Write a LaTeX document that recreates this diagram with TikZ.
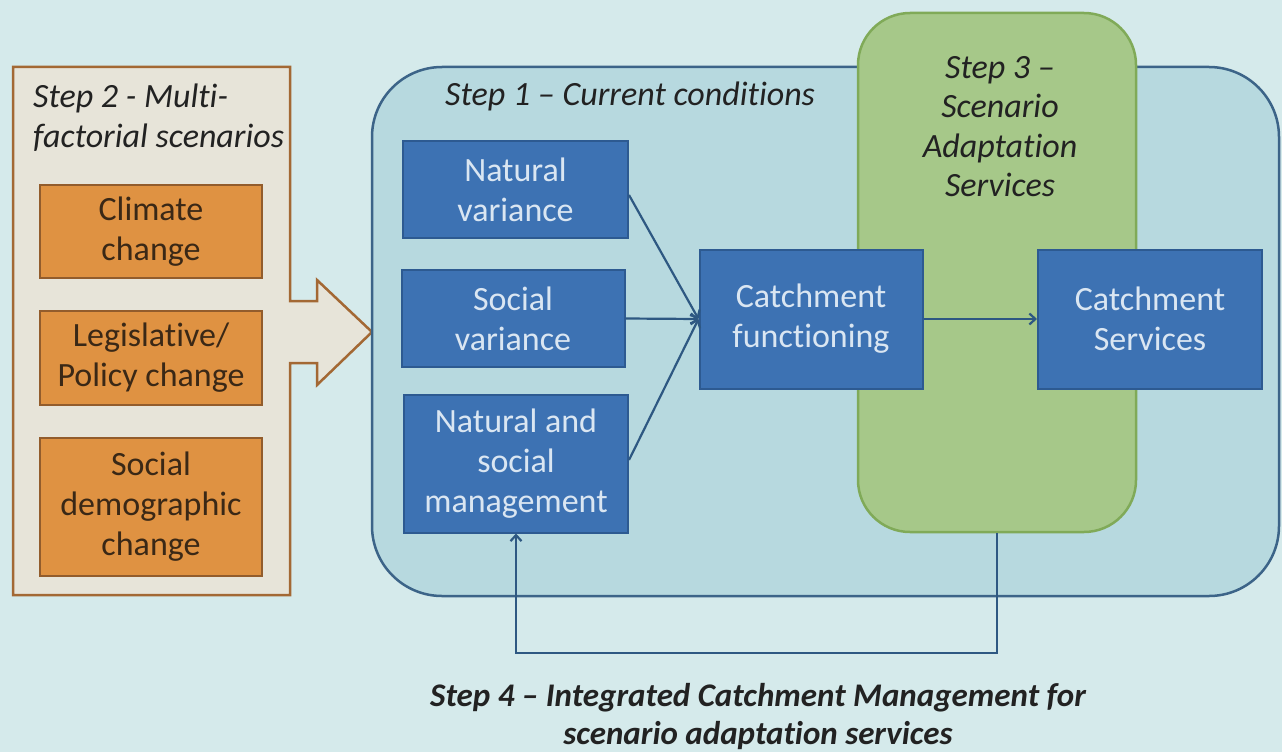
\documentclass[tikz,border=0pt]{standalone}
\usepackage{fontspec}
\setmainfont{Carlito}[Ligatures={NoCommon}]
\usetikzlibrary{arrows.meta}
\definecolor{bgc}{RGB}{213,234,235}
\definecolor{stepbeige}{RGB}{231,228,217}
\definecolor{stepbrown}{RGB}{163,104,52}
\definecolor{orangefill}{RGB}{223,146,66}
\definecolor{orangeedge}{RGB}{146,92,44}
\definecolor{orangetext}{RGB}{58,40,22}
\definecolor{onefill}{RGB}{183,217,223}
\definecolor{oneedge}{RGB}{60,100,136}
\definecolor{greenfill}{RGB}{166,200,137}
\definecolor{greenedge}{RGB}{128,170,88}
\definecolor{boxblue}{RGB}{61,114,179}
\definecolor{boxedge}{RGB}{45,90,145}
\definecolor{boxtext}{RGB}{218,230,242}
\definecolor{lineblue}{RGB}{46,88,130}
\definecolor{labeltext}{RGB}{34,34,34}
\newcommand\bxfont{\fontsize{34}{40}\selectfont}
\begin{document}
\begin{tikzpicture}[x=1pt,y=-1pt,
  bluebox/.style={draw=boxedge, fill=boxblue, line width=2, text=boxtext, align=center, inner sep=0pt, font=\bxfont},
  orangebox/.style={draw=orangeedge, fill=orangefill, line width=2, text=orangetext, align=center, inner sep=0pt, font=\bxfont},
  conn/.style={draw=lineblue, line width=2.2, -{Straight Barb[length=6pt,width=11pt,line width=2.2pt]}},
  steplabel/.style={text=labeltext, inner sep=0pt, font=\bxfont\itshape}
]
\useasboundingbox (0,0) rectangle (1282,752);
\fill[bgc] (0,0) rectangle (1282,752);

% Step 2 container with its arrow
\draw[draw=stepbrown, fill=stepbeige, line width=2.5, line join=miter]
  (13,67) -- (290,67) -- (290,301) -- (317,301) -- (317,280) -- (372,332)
  -- (317,385) -- (317,363) -- (290,363) -- (290,595) -- (13,595) -- cycle;
\node[steplabel, anchor=north west, align=left] (s2lab) at (33,84) {Step 2 - Multi-\\factorial scenarios};

\node[orangebox, minimum width=222, minimum height=93] (climate) at (151,231.5) {Climate\\change};
\node[orangebox, minimum width=222, minimum height=94] (policy) at (151,358) {Legislative/\\Policy change};
\node[orangebox, minimum width=222, minimum height=138] (demog) at (151,507) {Social\\demographic\\change};

% Step 1 container
\node[draw=oneedge, fill=onefill, line width=2.5, rounded corners=70, minimum width=907, minimum height=529, inner sep=0pt] (s1) at (825.5,331.5) {};
\node[steplabel, anchor=base west] (s1lab) at (445,105) {Step 1 – Current conditions};

% Step 3 container
\node[draw=greenedge, fill=greenfill, line width=2.5, rounded corners=52, minimum width=278, minimum height=519, inner sep=0pt] (s3) at (997,272.5) {};
\node[steplabel, anchor=north, align=center, font=\fontsize{34}{39.5}\selectfont\itshape] (s3lab) at (1000,56) {Step 3 –\\Scenario\\Adaptation\\Services};

% blue boxes
\node[bluebox, minimum width=225, minimum height=97] (natvar) at (515.5,189.5) {Natural\\variance};
\node[bluebox, minimum width=223, minimum height=97] (socvar) at (513,318.5) {Social\\variance};
\node[bluebox, minimum width=224, minimum height=138] (mgmt) at (516,463.5) {Natural and\\social\\management};
\node[bluebox, minimum width=223, minimum height=139] (func) at (811,319) {Catchment\\functioning};
\node[bluebox, minimum width=224, minimum height=139] (serv) at (1150,319) {Catchment\\Services};

% connectors
\draw[conn] (natvar.east |- 0,195) -- (func.west);
\draw[conn] (socvar.east) -- (func.west);
\draw[conn] (mgmt.east |- 0,460) -- (func.west);
\draw[conn] (func.east) -- (serv.west);
\coordinate (fbr) at (s3.south |- 0,653);
\coordinate (fbl) at (mgmt.south |- 0,653);
\draw[conn] (s3.south) -- (fbr) -- (fbl) -- (mgmt.south);

% Step 4 label
\node[text=labeltext, inner sep=0pt, anchor=north, align=center, font=\fontsize{33}{38}\selectfont\bfseries\itshape] (s4lab) at (758,683) {Step 4 – Integrated Catchment Management for\\scenario adaptation services};
\end{tikzpicture}
\end{document}
